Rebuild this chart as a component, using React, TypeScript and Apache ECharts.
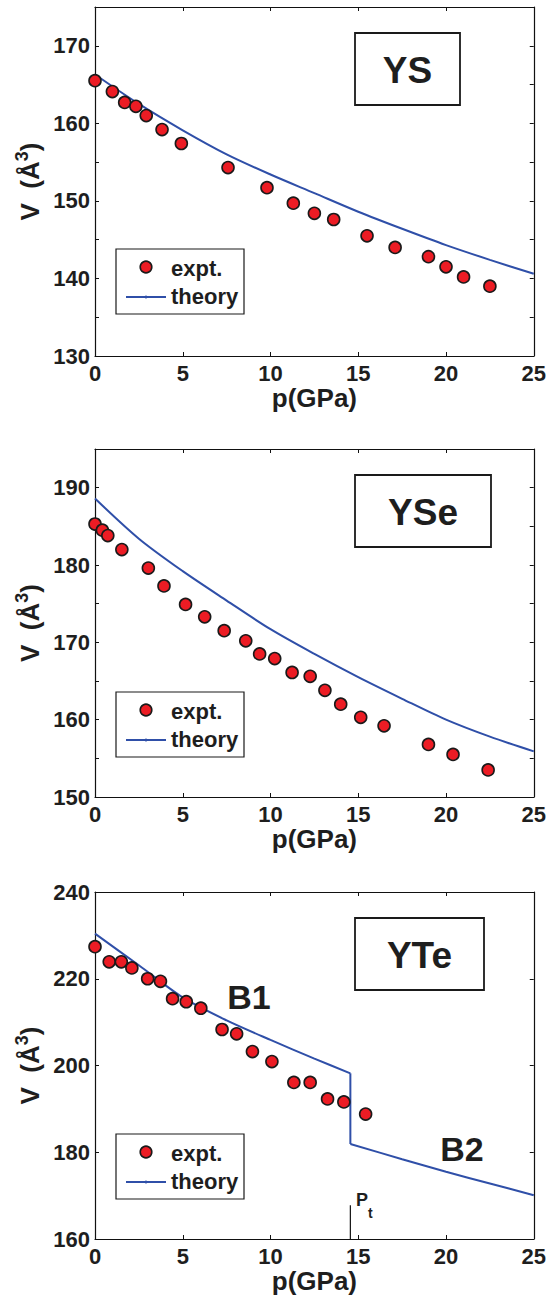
import React, { useEffect, useRef } from "react";
import * as echarts from "echarts";

// ---------- data ----------
const pGrid = [0, 2.5, 5, 7.5, 10, 12.5, 15, 17.5, 20, 22.5, 25];

// YS
const ysExptP = [0, 0.99, 1.69, 2.33, 2.92, 3.82, 4.92, 7.58, 9.8, 11.3, 12.5, 13.6, 15.5, 17.1, 19.0, 20.0, 21.0, 22.5];
const ysExptV = [165.5, 164.1, 162.7, 162.2, 161.0, 159.2, 157.4, 154.3, 151.7, 149.7, 148.4, 147.6, 145.5, 144.0, 142.8, 141.5, 140.2, 139.0];
const ysTheoryV = [166.3, 162.5, 159.1, 156.0, 153.4, 151.0, 148.6, 146.4, 144.3, 142.4, 140.6];

// YSe
const yseExptP = [0, 0.42, 0.73, 1.53, 3.04, 3.93, 5.16, 6.25, 7.36, 8.59, 9.38, 10.24, 11.23, 12.26, 13.1, 14.0, 15.14, 16.47, 19.0, 20.4, 22.4];
const yseExptV = [185.3, 184.5, 183.8, 182.0, 179.6, 177.3, 174.9, 173.3, 171.5, 170.2, 168.5, 167.9, 166.1, 165.6, 163.8, 162.0, 160.3, 159.2, 156.8, 155.5, 153.5];
const yseTheoryV = [188.6, 183.4, 179.2, 175.4, 171.7, 168.5, 165.5, 162.7, 160.0, 157.8, 155.9];

// YTe
const yteExptP = [0, 0.81, 1.5, 2.1, 3.0, 3.73, 4.42, 5.2, 6.03, 7.24, 8.07, 8.97, 10.08, 11.33, 12.26, 13.25, 14.18, 15.42];
const yteExptV = [227.4, 223.9, 223.9, 222.5, 220.0, 219.4, 215.4, 214.7, 213.2, 208.3, 207.3, 203.2, 200.9, 196.1, 196.1, 192.3, 191.6, 188.8];
const pt = 14.55;
const yteB1P = [0, 2.5, 5, 7.5, 10, 12.5, pt];
const yteB1V = [230.4, 223.1, 215.7, 210.4, 205.9, 201.6, 198.2];
const yteB2P = [pt, 17.5, 20, 22.5, 25];
const yteB2V = [181.9, 178.4, 175.5, 172.8, 170.1];
const ptTickV = [160, 167.8];

const panelTitles = ["YS", "YSe", "YTe"];
const yMin = [130, 150, 160];
const yMax = [175, 195, 240];
const yInterval = [5, 5, 20];
const yLabelStep = [10, 10, 20];
const legendLabels = ["expt.", "theory"];

// ---------- layout / style ----------
const W = 549;
const H = 1301;
const FONT = '"Liberation Sans", Arial, Helvetica, sans-serif';
const TXT = "#1e1e1e";
const RED = "#ec1c24";
const BLUE = "#2f4fa8";
const gridLeft = 95;
const gridWidth = 440;
const gridTops = [7, 449, 892];
const gridHeights = [349, 348, 347];
const titleBoxW = [105, 136, 129];
const legendTop = [249, 692, 1134];

const zip = (xs: number[], ys: number[]) => xs.map((x, i) => [x, ys[i]]);

export default function App() {
  const ref = useRef<HTMLDivElement>(null);

  useEffect(() => {
    if (!ref.current) return;
    const chart = echarts.init(ref.current, null, { renderer: "svg" });

    const grid: any[] = [];
    const xAxis: any[] = [];
    const yAxis: any[] = [];
    const series: any[] = [];
    const graphic: any[] = [];

    for (let i = 0; i < 3; i++) {
      grid.push({ left: gridLeft, top: gridTops[i], width: gridWidth, height: gridHeights[i], containLabel: false });
      const axisLine = { show: true, onZero: false, lineStyle: { color: "#111", width: 1.2 } };
      const tick = { show: true, inside: true, length: 4, lineStyle: { color: "#111", width: 1 } };
      xAxis.push({
        type: "value", gridIndex: i, min: 0, max: 25, interval: 5, position: "bottom",
        axisLine, axisTick: tick, splitLine: { show: false },
        axisLabel: { color: TXT, fontFamily: FONT, fontWeight: "bold", fontSize: 22, margin: 6 },
        name: "p(GPa)", nameLocation: "middle", nameGap: 29,
        nameTextStyle: { color: TXT, fontFamily: FONT, fontWeight: "bold", fontSize: 26 },
      });
      xAxis.push({
        type: "value", gridIndex: i, min: 0, max: 25, interval: 5, position: "top",
        axisLine, axisTick: tick, axisLabel: { show: false }, splitLine: { show: false },
      });
      const step = yLabelStep[i];
      yAxis.push({
        type: "value", gridIndex: i, min: yMin[i], max: yMax[i], interval: yInterval[i], position: "left",
        axisLine, axisTick: tick, splitLine: { show: false },
        axisLabel: {
          color: TXT, fontFamily: FONT, fontWeight: "bold", fontSize: 22, margin: 5,
          formatter: (v: number) => (Math.abs(v % step) < 1e-6 ? String(v) : ""),
        },
      });
      yAxis.push({
        type: "value", gridIndex: i, min: yMin[i], max: yMax[i], interval: yInterval[i], position: "right",
        axisLine, axisTick: tick, axisLabel: { show: false }, splitLine: { show: false },
      });

      // y-axis title
      const gc = gridTops[i] + gridHeights[i] / 2;
      graphic.push({
        type: "text", x: 28, y: gc, rotation: Math.PI / 2,
        style: {
          text: "{a|V  (Å}{s|3}{a|)}",
          fontFamily: FONT, fontWeight: "bold", fill: TXT,
          align: "center", verticalAlign: "middle",
          rich: {
            a: { fontFamily: FONT, fontWeight: "bold", fontSize: 26, fill: TXT, lineHeight: 30, verticalAlign: "bottom" },
            s: { fontFamily: FONT, fontWeight: "bold", fontSize: 18, fill: TXT, lineHeight: 30, verticalAlign: "top" },
          },
        },
      });

      // title box
      const tbTop = gridTops[i] + 26;
      graphic.push({
        type: "rect", shape: { x: 355, y: tbTop, width: titleBoxW[i], height: 72 },
        style: { fill: "#fff", stroke: "#1a1a1a", lineWidth: 1.8 },
      });
      graphic.push({
        type: "text", x: 355 + titleBoxW[i] / 2, y: tbTop + 37,
        style: { text: panelTitles[i], fontFamily: FONT, fontWeight: "bold", fontSize: 37, fill: TXT, align: "center", verticalAlign: "middle" },
      });

      // legend
      const ly = legendTop[i];
      graphic.push({ type: "rect", shape: { x: 116, y: ly, width: 128, height: 65 }, style: { fill: "#fff", stroke: "#1a1a1a", lineWidth: 1.2 } });
      graphic.push({ type: "circle", shape: { cx: 146, cy: ly + 18, r: 5.8 }, style: { fill: RED, stroke: "#1a1a1a", lineWidth: 1.6 } });
      graphic.push({ type: "text", x: 171, y: ly + 19, style: { text: legendLabels[0], fontFamily: FONT, fontWeight: "bold", fontSize: 22, fill: TXT, align: "left", verticalAlign: "middle" } });
      graphic.push({ type: "line", shape: { x1: 126, y1: ly + 48, x2: 166, y2: ly + 48 }, style: { stroke: BLUE, lineWidth: 2 } });
      graphic.push({ type: "circle", shape: { cx: 146, cy: ly + 48, r: 1.5 }, style: { fill: BLUE } });
      graphic.push({ type: "text", x: 171, y: ly + 47, style: { text: legendLabels[1], fontFamily: FONT, fontWeight: "bold", fontSize: 22, fill: TXT, align: "left", verticalAlign: "middle" } });
    }

    const xi = (i: number) => i * 2;
    const yi = (i: number) => i * 2;

    const lineBase = { type: "line", showSymbol: false, symbol: "none", lineStyle: { color: BLUE, width: 2 }, z: 2, silent: true };
    const scatterBase = {
      type: "scatter", symbol: "circle", symbolSize: 12, z: 3,
      itemStyle: { color: RED, opacity: 1, borderColor: "#1a1a1a", borderWidth: 1.6 },
    };

    // YS
    series.push({ ...lineBase, name: "theory", xAxisIndex: xi(0), yAxisIndex: yi(0), smooth: 0.3, data: zip(pGrid, ysTheoryV) });
    series.push({ ...scatterBase, name: "expt.", xAxisIndex: xi(0), yAxisIndex: yi(0), data: zip(ysExptP, ysExptV) });
    // YSe
    series.push({ ...lineBase, name: "theory", xAxisIndex: xi(1), yAxisIndex: yi(1), smooth: 0.3, data: zip(pGrid, yseTheoryV) });
    series.push({ ...scatterBase, name: "expt.", xAxisIndex: xi(1), yAxisIndex: yi(1), data: zip(yseExptP, yseExptV) });
    // YTe
    series.push({ ...lineBase, name: "theory B1", xAxisIndex: xi(2), yAxisIndex: yi(2), smooth: 0.3, data: zip(yteB1P, yteB1V) });
    series.push({ ...lineBase, name: "theory jump", xAxisIndex: xi(2), yAxisIndex: yi(2), data: [[pt, yteB1V[yteB1V.length - 1]], [pt, yteB2V[0]]] });
    series.push({ ...lineBase, name: "theory B2", xAxisIndex: xi(2), yAxisIndex: yi(2), smooth: 0.3, data: zip(yteB2P, yteB2V) });
    series.push({ ...lineBase, name: "Pt", xAxisIndex: xi(2), yAxisIndex: yi(2), lineStyle: { color: "#111", width: 1.2 }, data: [[pt, ptTickV[0]], [pt, ptTickV[1]]] });
    series.push({ ...scatterBase, name: "expt.", xAxisIndex: xi(2), yAxisIndex: yi(2), data: zip(yteExptP, yteExptV) });

    // annotations in YTe panel
    graphic.push({ type: "text", x: 249, y: 997, style: { text: "B1", fontFamily: FONT, fontWeight: "bold", fontSize: 34, fill: TXT, align: "center", verticalAlign: "middle" } });
    graphic.push({ type: "text", x: 462, y: 1149, style: { text: "B2", fontFamily: FONT, fontWeight: "bold", fontSize: 34, fill: TXT, align: "center", verticalAlign: "middle" } });
    graphic.push({ type: "text", x: 356, y: 1200, style: { text: "P", fontFamily: FONT, fontWeight: "bold", fontSize: 18, fill: TXT, align: "left", verticalAlign: "middle" } });
    graphic.push({ type: "text", x: 368, y: 1213, style: { text: "t", fontFamily: FONT, fontWeight: "bold", fontSize: 14, fill: TXT, align: "left", verticalAlign: "middle" } });

    chart.setOption({
      animation: false,
      backgroundColor: "#fff",
      textStyle: { fontFamily: FONT },
      grid, xAxis, yAxis, series, graphic,
    });

    return () => chart.dispose();
  }, []);

  return <div ref={ref} style={{ position: "absolute", left: 0, top: 0, width: W, height: H }} />;
}
